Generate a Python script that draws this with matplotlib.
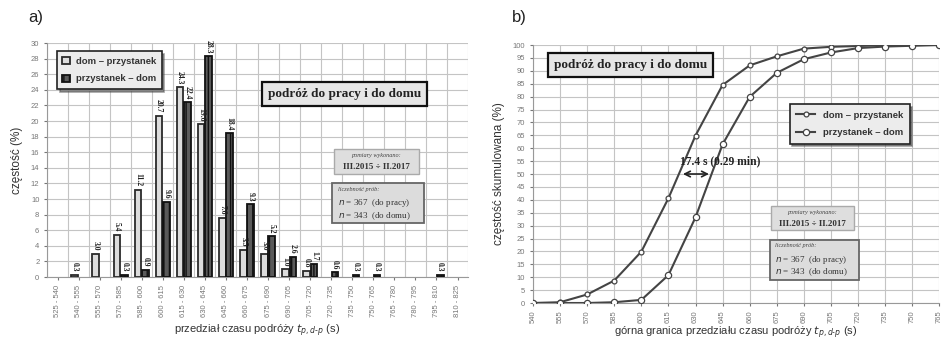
import matplotlib
matplotlib.use("Agg")
import matplotlib.pyplot as plt
import numpy as np
from matplotlib.patches import FancyBboxPatch

# ---------------- data ----------------
categories = ["525 - 540", "540 - 555", "555 - 570", "570 - 585", "585 - 600",
              "600 - 615", "615 - 630", "630 - 645", "645 - 660", "660 - 675",
              "675 - 690", "690 - 705", "705 - 720", "720 - 735", "735 - 750",
              "750 - 765", "765 - 780", "780 - 795", "795 - 810", "810 - 825"]
dom_przystanek = [0, 0.3, 3.0, 5.4, 11.2, 20.7, 24.3, 19.6, 7.6, 3.5,
                  3.0, 1.0, 0.8, 0, 0, 0, 0, 0, 0, 0]
przystanek_dom = [0, 0, 0, 0.3, 0.9, 9.6, 22.4, 28.3, 18.4, 9.3,
                  5.2, 2.6, 1.7, 0.6, 0.3, 0.3, 0, 0, 0.3, 0]

upper_bounds = [540, 555, 570, 585, 600, 615, 630, 645, 660, 675,
                690, 705, 720, 735, 750, 765]
cum_dom_przystanek = [0, 0.3, 3.3, 8.7, 19.9, 40.6, 64.9, 84.5, 92.1, 95.6,
                      98.6, 99.3, 99.6, 100, 100, 100]
cum_przystanek_dom = [0, 0, 0, 0.3, 1.2, 10.8, 33.2, 61.5, 79.9, 89.2,
                      94.5, 97.1, 98.8, 99.4, 99.7, 100]

label_dp = "dom \u2013 przystanek"
label_pd = "przystanek \u2013 dom"

# ---------------- figure ----------------
fig = plt.figure(figsize=(9.44, 3.43), dpi=100)
plt.rcParams['font.family'] = ['Liberation Sans', 'DejaVu Sans']

grid_c = '#c4c4c4'
tick_c = '#777777'
serif = 'Liberation Serif'

# ===== a) =====
ax1 = fig.add_axes([0.0498, 0.1924, 0.4460, 0.6822])
x = np.arange(len(categories))
w = 0.32
off = 0.18
dp = np.array(dom_przystanek)
pd_ = np.array(przystanek_dom)
m1 = dp > 0
m2 = pd_ > 0
ax1.bar(x[m1] - off, dp[m1], w, color='#dcdcdc', edgecolor='#2a2a2a',
        linewidth=1.3, label=label_dp, zorder=3)
ax1.bar(x[m2] + off, pd_[m2], w, color='#5a5a5a', edgecolor='#111111',
        linewidth=1.3, label=label_pd, hatch='|||', zorder=3)
for xi, v in zip(x[m1], dp[m1]):
    ax1.text(xi - off, v + 0.4, f"{v:.1f}", rotation=270, ha='center', va='bottom',
             fontsize=5.5, fontweight='bold', family=serif, color='#222222')
for xi, v in zip(x[m2], pd_[m2]):
    ax1.text(xi + off, v + 0.4, f"{v:.1f}", rotation=270, ha='center', va='bottom',
             fontsize=5.5, fontweight='bold', family=serif, color='#222222')

ax1.set_xlim(-0.5, len(categories) - 0.5)
ax1.set_ylim(0, 30)
ax1.set_yticks(np.arange(0, 31, 2))
ax1.set_xticks(x)
ax1.set_xticklabels(categories, rotation=90, fontsize=5.5, color=tick_c)
ax1.tick_params(axis='y', labelsize=5.5, colors=tick_c, length=2)
ax1.tick_params(axis='x', length=2, colors=tick_c)
ax1.set_xticks(np.arange(-0.5, len(categories), 1), minor=True)
ax1.tick_params(axis='x', which='minor', length=0)
ax1.grid(True, axis='y', color=grid_c, lw=0.8, zorder=0)
ax1.grid(True, axis='x', which='minor', color=grid_c, lw=0.8, zorder=0)
ax1.set_axisbelow(True)
for s in ['top', 'right']:
    ax1.spines[s].set_visible(False)
ax1.spines['left'].set_color('#999999')
ax1.spines['bottom'].set_color('#999999')
ax1.set_ylabel("częstość (%)", fontsize=8.5, color='#333333', labelpad=6)
ax1.set_xlabel("przedział czasu podróży $t_{p,d\u2010p}$ (s)", fontsize=8, color='#333333', labelpad=4)

leg1 = ax1.legend(loc='upper left', bbox_to_anchor=(0.012, 0.985), fontsize=6.8,
                  frameon=True, fancybox=False, shadow=True, handlelength=0.8,
                  handleheight=0.8, borderpad=0.6, labelspacing=0.9, handletextpad=0.6)
leg1.get_frame().set_edgecolor('#222222')
leg1.get_frame().set_linewidth(1.2)
leg1.get_frame().set_facecolor('#ececec')
for t in leg1.get_texts():
    t.set_fontweight('bold')
    t.set_color('#333333')

ax1.text(0.707, 0.782, "podróż do pracy i do domu", transform=ax1.transAxes,
         ha='center', va='center', fontsize=9.5, fontweight='bold',
         family=serif, color='#222222',
         bbox=dict(boxstyle='square,pad=0.45', facecolor='#e6e6e6', edgecolor='#111111', lw=1.6))

ax1.add_patch(FancyBboxPatch((0.682, 0.44), 0.202, 0.107, boxstyle='square,pad=0',
                             transform=ax1.transAxes, facecolor='#dedede',
                             edgecolor='#aaaaaa', lw=1.0, zorder=4))
ax1.text(0.783, 0.518, "pomiary wykonano:", transform=ax1.transAxes,
         ha='center', va='center', fontsize=4.5, style='italic',
         family=serif, color='#444444', zorder=5)
ax1.text(0.783, 0.468, "III.2015 ÷ II.2017", transform=ax1.transAxes,
         ha='center', va='center', fontsize=6.5, fontweight='bold',
         family=serif, color='#333333', zorder=5)

ax1.add_patch(FancyBboxPatch((0.677, 0.231), 0.218, 0.171, boxstyle='square,pad=0',
                             transform=ax1.transAxes, facecolor='#dcdcdc',
                             edgecolor='#666666', lw=1.3, zorder=4))
ax1.text(0.69, 0.375, "liczebność prób:", transform=ax1.transAxes,
         ha='left', va='center', fontsize=4.5, style='italic',
         family=serif, color='#444444', zorder=5)
ax1.text(0.69, 0.315, "$n$ = 367  (do pracy)", transform=ax1.transAxes,
         ha='left', va='center', fontsize=6.5, family=serif, color='#333333', zorder=5)
ax1.text(0.69, 0.26, "$n$ = 343  (do domu)", transform=ax1.transAxes,
         ha='left', va='center', fontsize=6.5, family=serif, color='#333333', zorder=5)

fig.text(0.03, 0.935, "a)", fontsize=12, color='#222222')

# ===== b) =====
ax2 = fig.add_axes([0.5646, 0.1166, 0.4304, 0.7522])
ax2.plot(upper_bounds, cum_dom_przystanek, color='#444444', lw=1.5, marker='o',
         ms=3.5, mfc='white', mec='#444444', mew=0.9, label=label_dp, zorder=3)
ax2.plot(upper_bounds, cum_przystanek_dom, color='#444444', lw=1.5, marker='o',
         ms=4.5, mfc='white', mec='#444444', mew=0.9, label=label_pd, zorder=3)
ax2.set_xlim(540, 765)
ax2.set_ylim(0, 100)
ax2.set_xticks(upper_bounds)
ax2.set_xticklabels([str(u) for u in upper_bounds], rotation=90, fontsize=5.5, color=tick_c)
ax2.set_yticks(np.arange(0, 101, 5))
ax2.tick_params(axis='y', labelsize=5.5, colors=tick_c, length=2)
ax2.tick_params(axis='x', length=2, colors=tick_c)
ax2.grid(True, color=grid_c, lw=0.8, zorder=0)
ax2.set_axisbelow(True)
for s in ['top', 'right']:
    ax2.spines[s].set_visible(False)
ax2.spines['left'].set_color('#999999')
ax2.spines['bottom'].set_color('#999999')
ax2.set_ylabel("częstość skumulowana (%)", fontsize=8.5, color='#333333', labelpad=6)
ax2.set_xlabel("górna granica przedziału czasu podróży $t_{p,d\u2010p}$ (s)", fontsize=8,
               color='#333333', labelpad=1)

leg2 = ax2.legend(loc='upper left', bbox_to_anchor=(0.62, 0.79), fontsize=6.8,
                  frameon=True, fancybox=False, shadow=True, handlelength=2.0,
                  borderpad=0.7, labelspacing=0.9, handletextpad=0.8)
leg2.get_frame().set_edgecolor('#222222')
leg2.get_frame().set_linewidth(1.2)
leg2.get_frame().set_facecolor('#ececec')
for t in leg2.get_texts():
    t.set_fontweight('bold')
    t.set_color('#333333')

ax2.text(0.24, 0.922, "podróż do pracy i do domu", transform=ax2.transAxes,
         ha='center', va='center', fontsize=9.5, fontweight='bold',
         family=serif, color='#222222',
         bbox=dict(boxstyle='square,pad=0.45', facecolor='#e6e6e6', edgecolor='#111111', lw=1.6))

ax2.annotate("", xy=(639, 50), xytext=(621.5, 50),
             arrowprops=dict(arrowstyle='<->', color='#222222', lw=1.2), zorder=5)
ax2.text(621.5, 52.5, "17.4 s (0.29 min)", ha='left', va='bottom', fontsize=8.3,
         fontweight='bold', family=serif, color='#222222', zorder=5)

ax2.add_patch(FancyBboxPatch((0.585, 0.283), 0.205, 0.093, boxstyle='square,pad=0',
                             transform=ax2.transAxes, facecolor='#dedede',
                             edgecolor='#aaaaaa', lw=1.0, zorder=4))
ax2.text(0.687, 0.352, "pomiary wykonano:", transform=ax2.transAxes,
         ha='center', va='center', fontsize=4.5, style='italic',
         family=serif, color='#444444', zorder=5)
ax2.text(0.687, 0.305, "III.2015 ÷ II.2017", transform=ax2.transAxes,
         ha='center', va='center', fontsize=6.5, fontweight='bold',
         family=serif, color='#333333', zorder=5)
ax2.add_patch(FancyBboxPatch((0.583, 0.089), 0.22, 0.155, boxstyle='square,pad=0',
                             transform=ax2.transAxes, facecolor='#dcdcdc',
                             edgecolor='#666666', lw=1.3, zorder=4))
ax2.text(0.595, 0.222, "liczebność prób:", transform=ax2.transAxes,
         ha='left', va='center', fontsize=4.5, style='italic',
         family=serif, color='#444444', zorder=5)
ax2.text(0.595, 0.168, "$n$ = 367  (do pracy)", transform=ax2.transAxes,
         ha='left', va='center', fontsize=6.5, family=serif, color='#333333', zorder=5)
ax2.text(0.595, 0.118, "$n$ = 343  (do domu)", transform=ax2.transAxes,
         ha='left', va='center', fontsize=6.5, family=serif, color='#333333', zorder=5)

fig.text(0.542, 0.935, "b)", fontsize=12, color='#222222')

fig.savefig("out.png", dpi=100)
